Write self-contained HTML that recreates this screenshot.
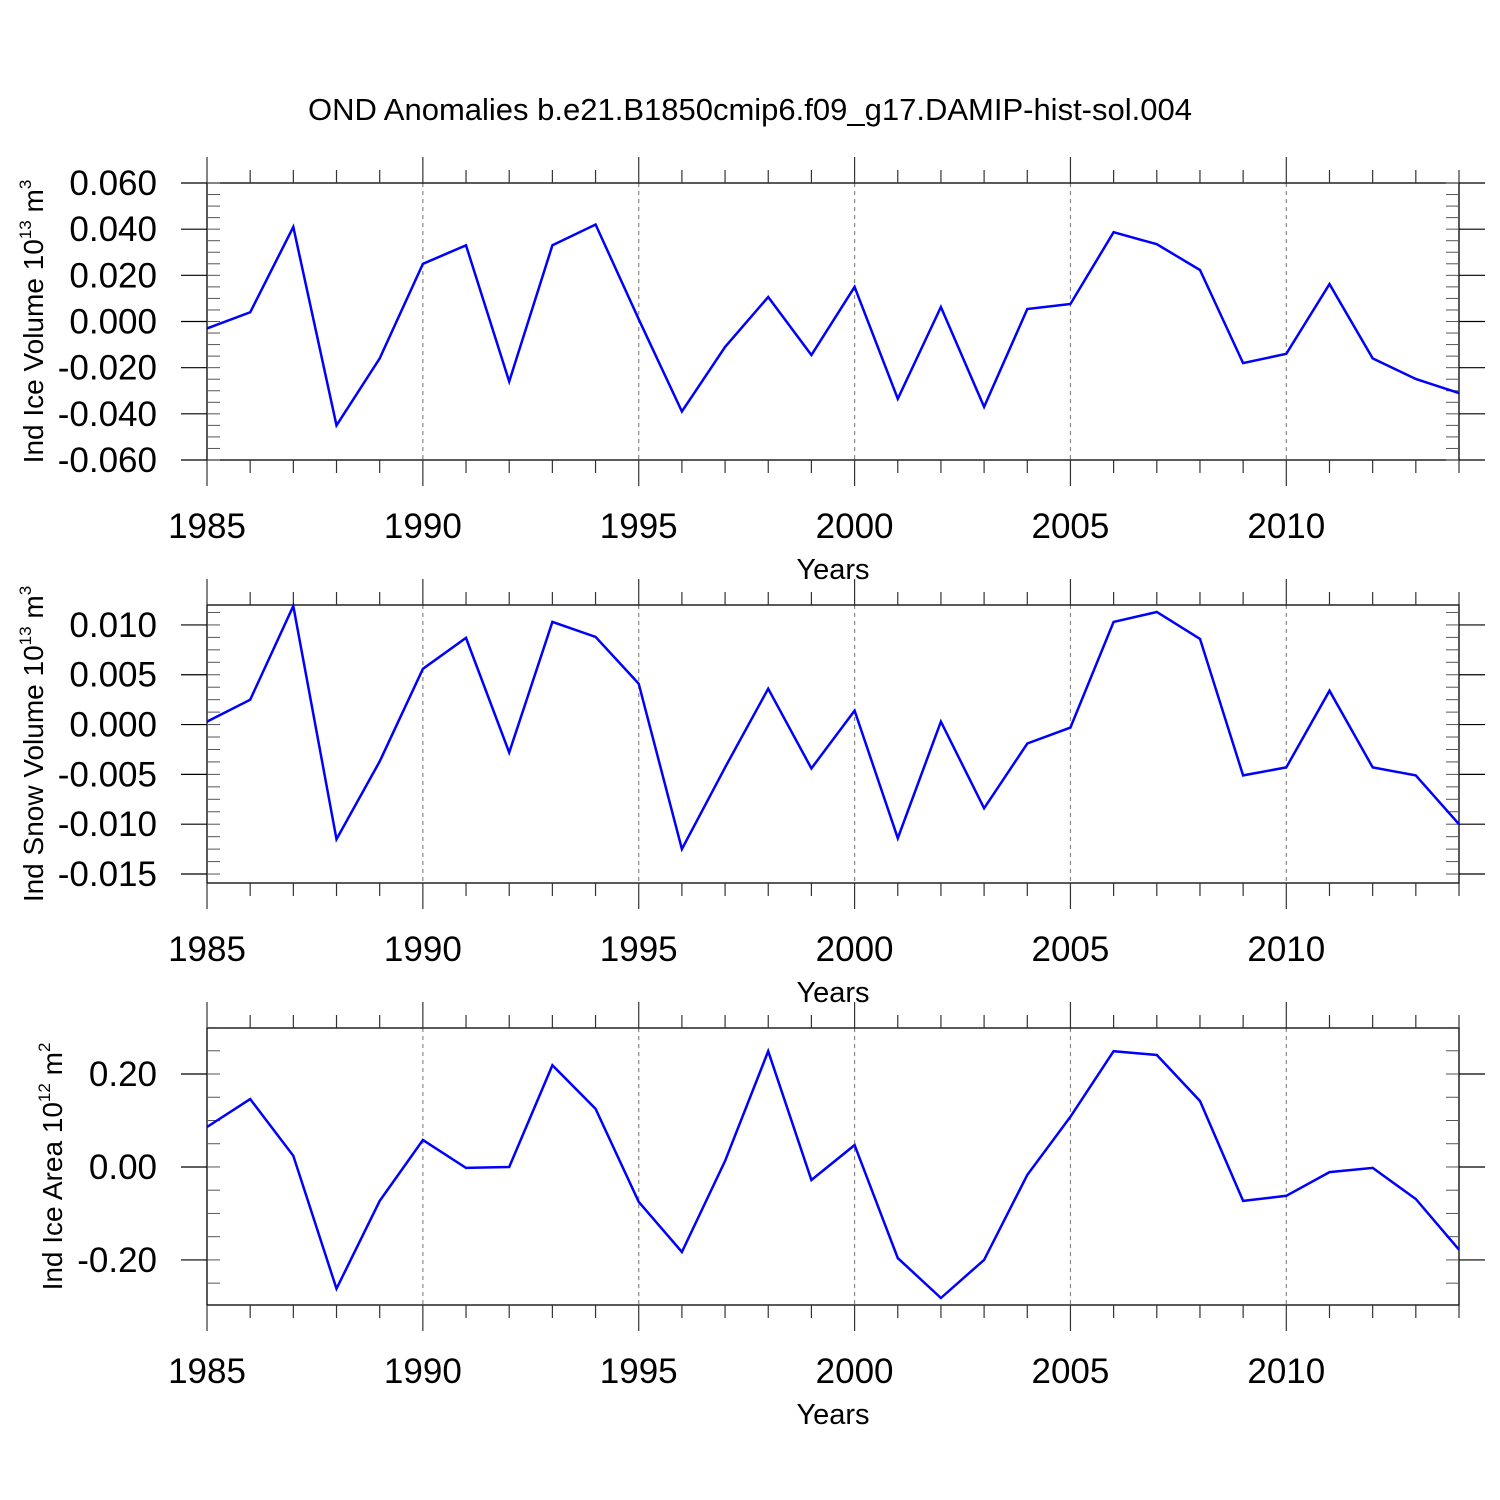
<!DOCTYPE html>
<html><head><meta charset="utf-8"><style>
html,body{margin:0;padding:0;background:#fff;}
svg{display:block;font-family:"Liberation Sans",Arial,sans-serif;}
</style></head><body>
<svg id="chart" width="1500" height="1500" viewBox="0 0 1500 1500">
<text x="750" y="120" font-size="31" text-anchor="middle">OND Anomalies b.e21.B1850cmip6.f09_g17.DAMIP-hist-sol.004</text>
</svg>
<script>
const years = [1985,1986,1987,1988,1989,1990,1991,1992,1993,1994,1995,1996,1997,1998,1999,2000,2001,2002,2003,2004,2005,2006,2007,2008,2009,2010,2011,2012,2013,2014];
const iceVolume = [-0.003,0.004,0.041,-0.045,-0.016,0.025,0.033,-0.026,0.033,0.042,0.001,-0.039,-0.011,0.0106,-0.0145,0.015,-0.0335,0.0063,-0.037,0.0054,0.0076,0.0387,0.0335,0.0223,-0.018,-0.014,0.0162,-0.016,-0.0249,-0.031];
const snowVolume = [0.0003,0.0025,0.0119,-0.0115,-0.0037,0.0056,0.0087,-0.0028,0.0103,0.0088,0.0041,-0.0125,-0.0043,0.0036,-0.0044,0.0014,-0.0114,0.0003,-0.0084,-0.0019,-0.0003,0.0103,0.0113,0.0086,-0.0051,-0.0043,0.0034,-0.0043,-0.0051,-0.0100];
const iceArea = [0.086,0.146,0.024,-0.262,-0.073,0.058,-0.002,0.0,0.219,0.125,-0.075,-0.183,0.013,0.249,-0.028,0.047,-0.196,-0.282,-0.2,-0.017,0.108,0.249,0.241,0.142,-0.073,-0.062,-0.011,-0.002,-0.069,-0.178];
const xTicks = [1985,1990,1995,2000,2005,2010];
const ticks1 = [0.06,0.04,0.02,0,-0.02,-0.04,-0.06];
const labels1 = ["0.060","0.040","0.020","0.000","-0.020","-0.040","-0.060"];
const ticks2 = [0.01,0.005,0,-0.005,-0.01,-0.015];
const labels2 = ["0.010","0.005","0.000","-0.005","-0.010","-0.015"];
const ticks3 = [0.2,0,-0.2];
const labels3 = ["0.20","0.00","-0.20"];

const NS="http://www.w3.org/2000/svg";
const svg=document.getElementById('chart');
function mk(tag,attrs,parent){const e=document.createElementNS(NS,tag);for(const k in attrs)e.setAttribute(k,attrs[k]);(parent||svg).appendChild(e);return e;}
const X0=207,X1=1459;
function xs(yr){return X0+(yr-1985)*(X1-X0)/29;}

const panels=[
 {name:'ice-volume',top:183,bot:460,vTop:0.06,vBot:-0.06,data:iceVolume,ticks:ticks1,labels:labels1,minor:0.005,exp:'13',unit:'m',uexp:'3',title:'Ind Ice Volume 10',tx:33},
 {name:'snow-volume',top:605,bot:883,vTop:0.012,vBot:-0.0159,data:snowVolume,ticks:ticks2,labels:labels2,minor:0.00125,exp:'13',unit:'m',uexp:'3',title:'Ind Snow Volume 10',tx:33},
 {name:'ice-area',top:1028,bot:1305,vTop:0.299,vBot:-0.297,data:iceArea,ticks:ticks3,labels:labels3,minor:0.05,exp:'12',unit:'m',uexp:'2',title:'Ind Ice Area 10',tx:52}
];
panels.forEach(p=>{
 const g=mk('g',{});
 
 
 const ys=v=>p.top+(p.vTop-v)*(p.bot-p.top)/(p.vTop-p.vBot);
 xTicks.slice(1).forEach(yr=>{
  const l=mk('line',{x1:xs(yr),x2:xs(yr),y1:p.top,y2:p.bot,stroke:'#888','stroke-width':1.2,'stroke-dasharray':'4,4'},g);
  
  
 });
 const r=mk('rect',{x:X0,y:p.top,width:X1-X0,height:p.bot-p.top,fill:'none',stroke:'#000','stroke-width':1.3},g);
 
 
 for(let yr=1985;yr<=2014;yr++){
  const major=(yr%5===0);const L=major?26:13;const x=xs(yr);
  mk('line',{x1:x,x2:x,y1:p.top-L,y2:p.top,stroke:'#333','stroke-width':1.2},g);
  mk('line',{x1:x,x2:x,y1:p.bot,y2:p.bot+L,stroke:'#333','stroke-width':1.2},g);
 }
 xTicks.forEach(yr=>{
  const t=mk('text',{x:xs(yr),y:p.bot+78,'font-size':35,'text-anchor':'middle'},g);
  t.textContent=yr;
  
  
 });
 const n=Math.round((p.vTop-p.vBot)/p.minor)+2;
 const start=Math.floor(p.vBot/p.minor)*p.minor;
 for(let i=0;i<=n+2;i++){
  const v=start+i*p.minor;const y=ys(v);
  if(y<p.top-0.5||y>p.bot+0.5)continue;
  mk('line',{x1:X0,x2:X0+13,y1:y,y2:y,stroke:'#555','stroke-width':1},g);
  mk('line',{x1:X1-13,x2:X1,y1:y,y2:y,stroke:'#555','stroke-width':1},g);
 }
 p.ticks.forEach((v,i)=>{
  const y=ys(v);
  mk('line',{x1:X0-26,x2:X0,y1:y,y2:y,stroke:'#000','stroke-width':1.2},g);
  mk('line',{x1:X1,x2:X1+26,y1:y,y2:y,stroke:'#000','stroke-width':1.2},g);
  const t=mk('text',{x:157,y:y+12,'font-size':35,'text-anchor':'end'},g);
  t.textContent=p.labels[i];
  
  
 });
 const pts=p.data.map((v,i)=>xs(years[i]).toFixed(1)+','+ys(v).toFixed(1)).join(' ');
 const pl=mk('polyline',{points:pts,fill:'none',stroke:'#0000ff','stroke-width':2.5,'stroke-linejoin':'miter'},g);
 
 
 const xt=mk('text',{x:833,y:p.bot+119,'font-size':29,'text-anchor':'middle'},g);
 xt.textContent='Years';
 
 
 const cy=(p.top+p.bot)/2;
 const yt=mk('text',{x:0,y:0,'font-size':28,'text-anchor':'middle',transform:`translate(${p.tx+10},${cy}) rotate(-90)`},g);
 
 
 const t1=mk('tspan',{},yt);t1.textContent=p.title;
 const t2=mk('tspan',{dy:-12,'font-size':17},yt);t2.textContent=p.exp;
 const t3=mk('tspan',{dy:12},yt);t3.textContent=' '+p.unit;
 const t4=mk('tspan',{dy:-12,'font-size':17},yt);t4.textContent=p.uexp;
});
</script>
</body></html>
